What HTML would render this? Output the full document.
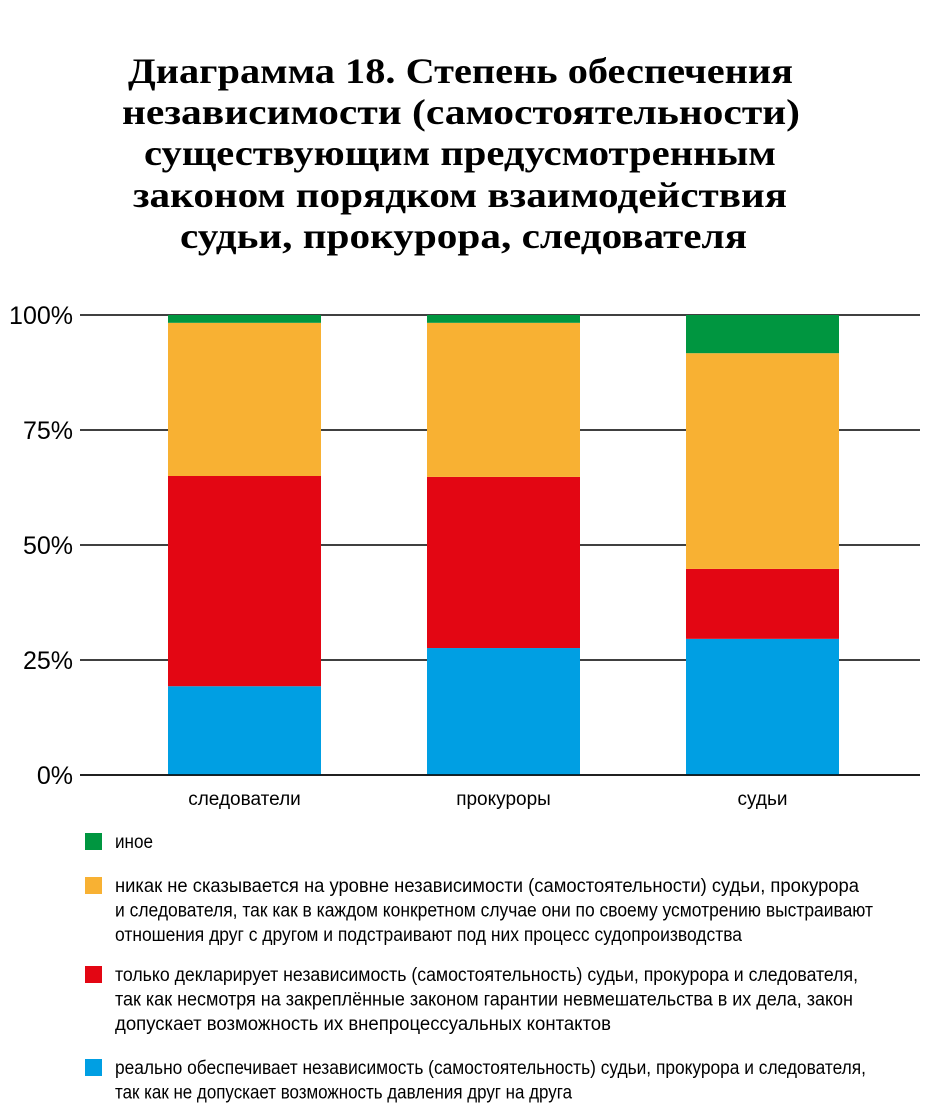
<!DOCTYPE html>
<html><head><meta charset="utf-8"><style>
body{margin:0;background:#fff;}
svg{display:block;}
</style></head><body>
<svg id="chart" width="928" height="1104" xmlns="http://www.w3.org/2000/svg">
<g font-family="Liberation Serif, serif" font-weight="bold" font-size="36" fill="#000">
<text x="128" y="83" textLength="665" lengthAdjust="spacingAndGlyphs">Диаграмма 18. Степень обеспечения</text>
<text x="122" y="124" textLength="678" lengthAdjust="spacingAndGlyphs">независимости (самостоятельности)</text>
<text x="144" y="165" textLength="632" lengthAdjust="spacingAndGlyphs">существующим предусмотренным</text>
<text x="133" y="207" textLength="654" lengthAdjust="spacingAndGlyphs">законом порядком взаимодействия</text>
<text x="180" y="248" textLength="567" lengthAdjust="spacingAndGlyphs">судьи, прокурора, следователя</text>
</g>
<g id="grid"></g>
<g id="bars"></g>
<g id="yticks"></g>
<g id="xlabels"></g>
<g id="legend" font-family="Liberation Sans, sans-serif" font-size="19" fill="#000"></g>
</svg>
<script>
const categories = ["следователи", "прокуроры", "судьи"];
const blueVals = [19.3, 27.6, 29.6];
const redVals = [45.7, 37.2, 15.2];
const orangeVals = [33.3, 33.5, 46.9];
const greenVals = [1.7, 1.7, 8.3];
const tickValues = [0, 25, 50, 75, 100];
const tickLabels = ["0%", "25%", "50%", "75%", "100%"];

const NS = "http://www.w3.org/2000/svg";
const y0 = 775, y100 = 315;
function yScale(v){ return y0 - (y0 - y100) * v / 100; }
const barX0 = 168, barStep = 259, barW = 153;
function xScale(i){ return barX0 + i * barStep; }
function mk(tag, attrs, parent){
  const e = document.createElementNS(NS, tag);
  for (const k in attrs) e.setAttribute(k, attrs[k]);
  parent.appendChild(e); return e;
}
const grid = document.getElementById('grid');
const yt = document.getElementById('yticks');
tickValues.forEach((v, i) => {
  const l = mk('line', {x1: 80, x2: 920, y1: yScale(v), y2: yScale(v), stroke: '#000', 'stroke-width': 1.5}, grid);
  
  
  const t = mk('text', {x: 73, y: yScale(v) + 9, 'text-anchor': 'end', 'font-family': 'Liberation Sans, sans-serif', 'font-size': 25}, yt);
  t.textContent = tickLabels[i];
  
  
});
const series = [
  {vals: blueVals, color: '#009fe3', name: 'blue'},
  {vals: redVals, color: '#e30613', name: 'red'},
  {vals: orangeVals, color: '#f8b133', name: 'orange'},
  {vals: greenVals, color: '#009640', name: 'green'}
];
const bars = document.getElementById('bars');
const xl = document.getElementById('xlabels');
categories.forEach((c, i) => {
  let acc = 0;
  series.forEach(s => {
    const v = s.vals[i];
    const r = mk('rect', {x: xScale(i), y: yScale(acc + v), width: barW, height: yScale(acc) - yScale(acc + v), fill: s.color}, bars);
    
    
    acc += v;
  });
  const t = mk('text', {x: xScale(i) + barW / 2, y: 805, 'text-anchor': 'middle', 'font-family': 'Liberation Sans, sans-serif', 'font-size': 19}, xl);
  t.textContent = c;
  
  
});
// axis line redraw on top at 0%
const ax = mk('line', {x1: 80, x2: 920, y1: y0, y2: y0, stroke: '#000', 'stroke-width': 1.5}, bars);



const legendItems = [
  {color: '#009640', y: 833, lines: [["иное", 38]]},
  {color: '#f8b133', y: 877, lines: [["никак не сказывается на уровне независимости (самостоятельности) судьи, прокурора", 744], ["и следователя, так как в каждом конкретном случае они по своему усмотрению выстраивают", 758], ["отношения друг с другом и подстраивают под них процесс судопроизводства", 627]]},
  {color: '#e30613', y: 966, lines: [["только декларирует независимость (самостоятельность) судьи, прокурора и следователя,", 743], ["так как несмотря на закреплённые законом гарантии невмешательства в их дела, закон", 738], ["допускает возможность их внепроцессуальных контактов", 496]]},
  {color: '#009fe3', y: 1059, lines: [["реально обеспечивает независимость (самостоятельность) судьи, прокурора и следователя,", 751], ["так как не допускает возможность давления друг на друга", 457]]}
];
const lg = document.getElementById('legend');
legendItems.forEach(it => {
  const r = mk('rect', {x: 85, y: it.y, width: 17, height: 17, fill: it.color}, lg);
  
  
  it.lines.forEach((ln, j) => {
    const t = mk('text', {x: 115, y: it.y + 15 + j * 24.5, textLength: ln[1], lengthAdjust: 'spacingAndGlyphs'}, lg);
    t.textContent = ln[0];
    
    
  });
});
</script>
</body></html>
